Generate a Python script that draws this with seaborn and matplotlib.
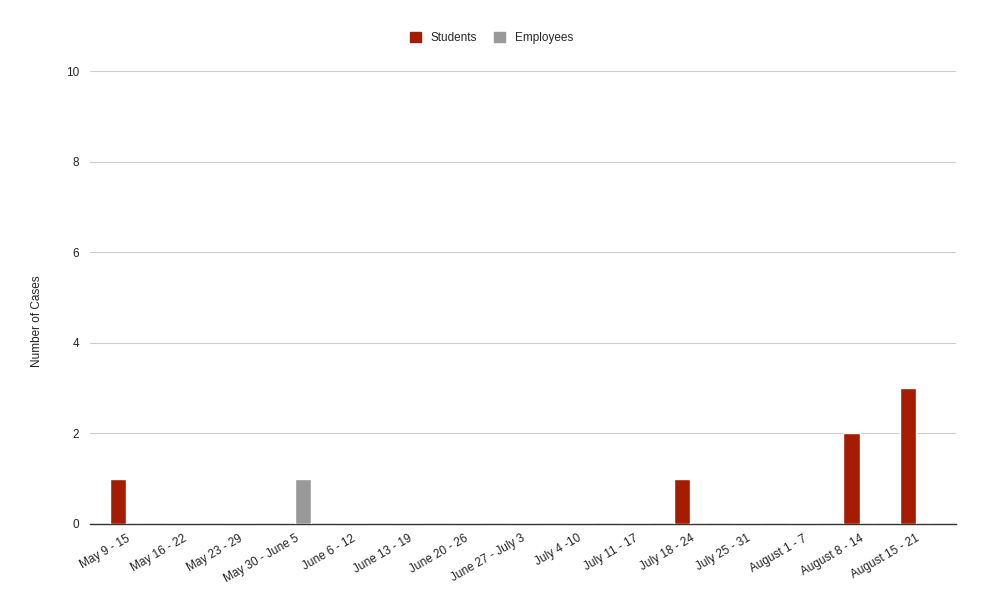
import pandas as pd
import seaborn as sns
import matplotlib.pyplot as plt

# Data
weeks = ["May 9 - 15", "May 16 - 22", "May 23 - 29", "May 30 - June 5",
         "June 6 - 12", "June 13 - 19", "June 20 - 26", "June 27 - July 3",
         "July 4 -10", "July 11 - 17", "July 18 - 24", "July 25 - 31",
         "August 1 - 7", "August 8 - 14", "August 15 - 21"]
students = [1, 0, 0, 0, 0, 0, 0, 0, 0, 0, 1, 0, 0, 2, 3]
employees = [0, 0, 0, 1, 0, 0, 0, 0, 0, 0, 0, 0, 0, 0, 0]

df = pd.DataFrame({"Week": weeks, "Students": students, "Employees": employees})
df = df.melt(id_vars="Week", var_name="Group", value_name="Cases")

sns.set_style("white")
plt.rcParams['font.family'] = ['Liberation Sans', 'DejaVu Sans']

fig = plt.figure(figsize=(9.87, 6.1), dpi=100)
ax = fig.add_axes([0.0912, 0.141, 0.8774, 0.7426])

sns.barplot(data=df, x="Week", y="Cases", hue="Group",
            palette={"Students": "#a61c00", "Employees": "#999999"},
            saturation=1, width=0.57, ax=ax, legend=False, zorder=3)

ax.set_ylim(0, 10)
ax.set_yticks(range(0, 11, 2))
ax.set_xlim(-0.64, 14.71)
ax.yaxis.grid(True, color="#cccccc", linewidth=0.8, zorder=0)
ax.set_axisbelow(True)
for s in ["top", "right", "left"]:
    ax.spines[s].set_visible(False)
ax.spines["bottom"].set_color("#333333")
ax.spines["bottom"].set_linewidth(1.0)
ax.tick_params(axis="both", length=0, labelsize=8.5, colors="#222222")
ax.tick_params(axis="y", pad=8)
ax.tick_params(axis="x", pad=6)
plt.setp(ax.get_xticklabels(), rotation=30, ha="right", rotation_mode="anchor")

ax.set_xlabel("")
ax.set_ylabel("Number of Cases", fontsize=8.5, color="#222222", labelpad=0)
ax.yaxis.set_label_coords(-0.054, 0.448)

# Legend
handles = [plt.Rectangle((0, 0), 1, 1, color="#a61c00"),
           plt.Rectangle((0, 0), 1, 1, color="#999999")]
fig.legend(handles, ["Students", "Employees"], loc="center",
           bbox_to_anchor=(0.498, 0.938), ncol=2, frameon=False,
           fontsize=8.5, handlelength=0.9, handleheight=0.9,
           columnspacing=1.5, handletextpad=0.8)

fig.savefig("out.png", dpi=100)
